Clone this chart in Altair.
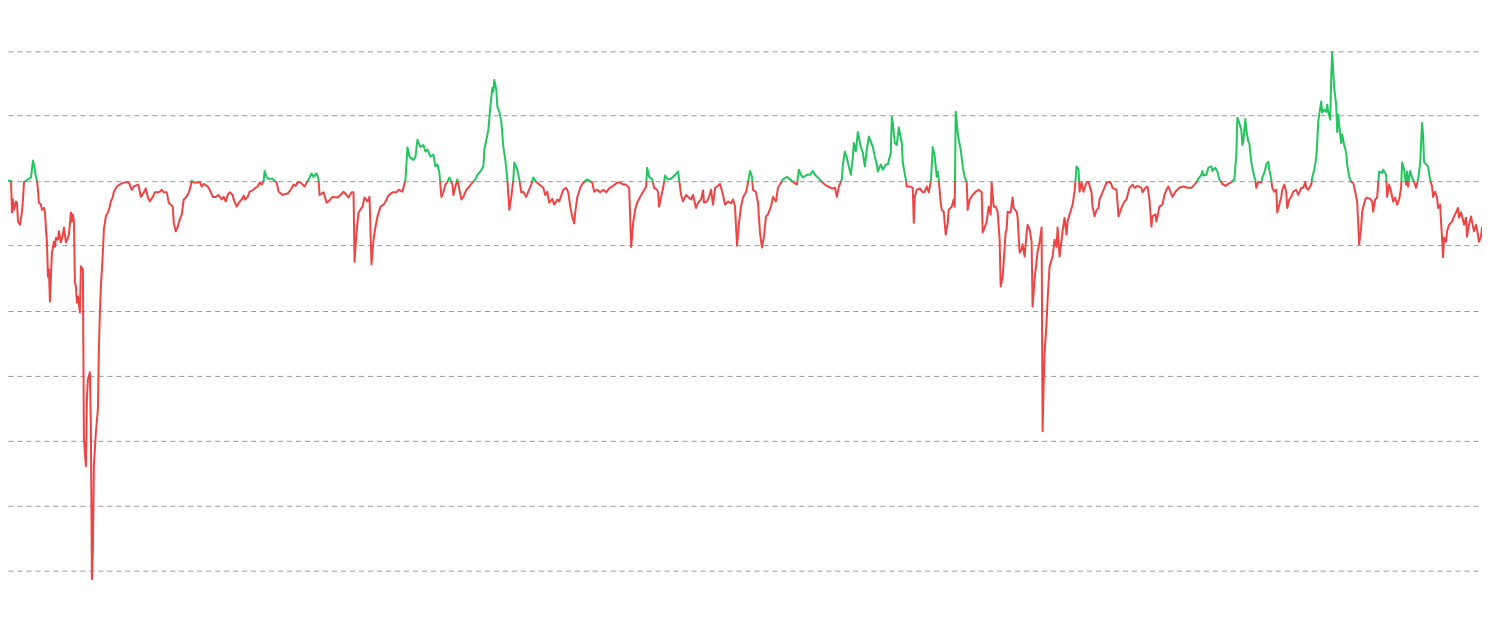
import altair as alt
import pandas as pd

# x position (trading-day index) and indicator value
days = [
    7, 10, 11, 12, 13, 15, 16, 17, 19, 21, 22, 23, 28, 30, 32, 33, 35, 36, 37, 38,
    40, 41, 43, 44, 45, 46, 47, 48, 49, 50, 51, 53, 54, 55, 57, 58, 60, 62, 63, 65,
    67, 68, 70, 71, 72, 73, 74, 75, 76, 77, 79, 80, 82, 83, 85, 86, 87, 89, 90, 91,
    92, 93, 95, 97, 98, 99, 100, 102, 103, 105, 107, 108, 110, 112, 113, 116, 120, 123, 126, 128,
    131, 133, 137, 138, 140, 143, 145, 147, 149, 152, 154, 157, 159, 161, 163, 166, 168, 170, 172, 173,
    175, 177, 179, 181, 183, 185, 187, 189, 191, 193, 197, 199, 201, 203, 207, 209, 212, 215, 218, 221,
    223, 225, 227, 229, 232, 233, 236, 238, 241, 243, 244, 247, 249, 252, 254, 257, 259, 261, 263, 264,
    266, 268, 272, 274, 276, 278, 282, 285, 287, 290, 293, 295, 297, 300, 304, 308, 311, 313, 316, 318,
    319, 323, 326, 328, 332, 337, 340, 343, 346, 348, 351, 353, 354, 356, 358, 362, 364, 367, 369, 371,
    373, 375, 377, 380, 383, 385, 388, 392, 396, 398, 402, 405, 407, 409, 413, 415, 417, 420, 423, 425,
    427, 430, 433, 435, 437, 439, 441, 443, 445, 447, 449, 452, 453, 455, 457, 458, 461, 463, 466, 469,
    472, 475, 477, 480, 483, 484, 486, 488, 490, 492, 493, 494, 496, 497, 499, 501, 503, 505, 507, 509,
    511, 513, 514, 517, 519, 521, 523, 526, 528, 531, 533, 536, 539, 543, 545, 547, 549, 552, 554, 557,
    559, 563, 566, 568, 570, 572, 574, 575, 577, 580, 583, 587, 592, 594, 597, 600, 603, 606, 609, 613,
    617, 620, 623, 626, 629, 631, 633, 635, 637, 640, 643, 646, 647, 649, 652, 654, 657, 658, 659, 661,
    663, 665, 667, 670, 673, 675, 678, 679, 681, 683, 686, 688, 691, 693, 696, 698, 701, 703, 704, 707,
    709, 711, 713, 715, 717, 720, 723, 725, 728, 731, 733, 735, 737, 739, 741, 743, 746, 748, 750, 752,
    753, 756, 758, 760, 762, 764, 766, 768, 771, 773, 776, 778, 780, 783, 787, 790, 793, 797, 799, 801,
    803, 807, 810, 813, 815, 818, 822, 825, 828, 832, 835, 837, 839, 842, 843, 845, 847, 848, 851, 853,
    854, 856, 858, 861, 863, 865, 867, 869, 871, 873, 875, 877, 878, 881, 883, 886, 888, 891, 892, 893,
    895, 897, 899, 902, 903, 906, 907, 910, 913, 914, 915, 917, 920, 923, 925, 927, 929, 931, 932, 933,
    935, 937, 938, 939, 941, 942, 944, 946, 948, 949, 952, 954, 955, 956, 958, 959, 961, 963, 965, 967,
    968, 970, 973, 976, 979, 982, 983, 985, 987, 989, 991, 992, 994, 996, 998, 1000, 1001, 1003, 1004, 1006,
    1007, 1008, 1011, 1013, 1014, 1017, 1018, 1020, 1022, 1023, 1025, 1027, 1028, 1030, 1032, 1033, 1035, 1038, 1040, 1042,
    1043, 1044, 1045, 1047, 1048, 1050, 1052, 1053, 1055, 1057, 1058, 1060, 1062, 1063, 1065, 1067, 1068, 1070, 1073, 1075,
    1076, 1077, 1079, 1080, 1082, 1084, 1087, 1089, 1092, 1093, 1095, 1097, 1099, 1100, 1103, 1107, 1111, 1113, 1117, 1119,
    1122, 1125, 1127, 1130, 1133, 1135, 1138, 1142, 1143, 1146, 1148, 1150, 1152, 1153, 1156, 1157, 1160, 1163, 1165, 1167,
    1169, 1173, 1176, 1180, 1184, 1188, 1192, 1195, 1197, 1199, 1202, 1203, 1204, 1207, 1209, 1212, 1213, 1216, 1218, 1220,
    1223, 1226, 1229, 1232, 1235, 1237, 1238, 1240, 1242, 1243, 1244, 1246, 1247, 1249, 1250, 1252, 1253, 1255, 1256, 1257,
    1259, 1262, 1263, 1265, 1267, 1269, 1270, 1272, 1273, 1275, 1277, 1278, 1280, 1282, 1283, 1285, 1287, 1288, 1290, 1292,
    1294, 1297, 1299, 1302, 1304, 1306, 1307, 1309, 1312, 1313, 1315, 1317, 1318, 1319, 1321, 1322, 1323, 1325, 1327, 1328,
    1329, 1331, 1332, 1333, 1334, 1335, 1337, 1338, 1339, 1340, 1342, 1343, 1345, 1347, 1348, 1350, 1352, 1354, 1356, 1358,
    1360, 1362, 1363, 1366, 1368, 1371, 1373, 1374, 1376, 1378, 1380, 1383, 1384, 1387, 1388, 1390, 1392, 1394, 1396, 1398,
    1400, 1402, 1403, 1405, 1407, 1408, 1409, 1411, 1413, 1415, 1417, 1419, 1421, 1423, 1424, 1425, 1427, 1429, 1431, 1433,
    1434, 1436, 1438, 1439, 1441, 1443, 1444, 1445, 1447, 1448, 1450, 1453, 1455, 1457, 1459, 1460, 1462, 1463, 1465, 1467,
    1468, 1470, 1472, 1473, 1475, 1477, 1478, 1480, 1482, 1483,
]

values = [
    0.00, 0.00, -0.49, -0.29, -0.45, -0.32, -0.34, -0.63, -0.68, -0.48, -0.29, -0.02, 0.03, 0.05, 0.31, 0.25, 0.06, 0.00, -0.14, -0.34,
    -0.37, -0.45, -0.42, -0.48, -0.75, -0.95, -1.48, -1.37, -1.86, -1.48, -1.11, -0.94, -1.02, -0.88, -0.91, -0.78, -0.95, -0.83, -0.72, -0.95,
    -0.88, -0.83, -0.49, -0.63, -0.52, -0.63, -1.57, -1.63, -1.88, -1.78, -2.03, -1.32, -1.37, -3.98, -4.40, -3.37, -3.06, -2.95, -3.78, -6.14,
    -5.68, -4.40, -3.88, -3.52, -2.60, -2.03, -1.63, -1.11, -0.75, -0.55, -0.49, -0.45, -0.32, -0.25, -0.17, -0.09, -0.05, -0.03, -0.02, -0.03,
    -0.14, -0.09, -0.06, -0.09, -0.25, -0.18, -0.12, -0.25, -0.32, -0.25, -0.18, -0.18, -0.17, -0.14, -0.18, -0.18, -0.34, -0.37, -0.40, -0.65,
    -0.78, -0.71, -0.60, -0.52, -0.29, -0.26, -0.22, -0.14, 0.00, -0.03, -0.03, -0.02, -0.09, -0.05, -0.09, -0.14, -0.25, -0.25, -0.22, -0.29,
    -0.25, -0.32, -0.22, -0.18, -0.22, -0.29, -0.40, -0.34, -0.29, -0.23, -0.29, -0.25, -0.17, -0.15, -0.12, -0.09, -0.03, -0.06, 0.00, 0.15,
    0.05, 0.03, 0.03, 0.00, -0.03, -0.17, -0.22, -0.20, -0.20, -0.14, -0.06, -0.08, -0.03, -0.03, -0.09, 0.02, 0.11, 0.06, 0.11, 0.02,
    -0.22, -0.18, -0.34, -0.32, -0.25, -0.26, -0.22, -0.17, -0.22, -0.26, -0.18, -0.18, -1.25, -0.80, -0.49, -0.40, -0.26, -0.32, -0.25, -1.29,
    -0.91, -0.71, -0.55, -0.40, -0.37, -0.32, -0.23, -0.18, -0.18, -0.14, -0.17, 0.02, 0.51, 0.37, 0.32, 0.37, 0.63, 0.52, 0.55, 0.45,
    0.48, 0.37, 0.40, 0.22, 0.25, 0.12, -0.25, -0.18, -0.06, -0.02, 0.05, -0.06, -0.22, -0.09, 0.02, -0.06, -0.29, -0.25, -0.14, -0.09,
    -0.03, 0.02, 0.09, 0.14, 0.22, 0.48, 0.63, 0.78, 1.14, 1.43, 1.37, 1.55, 1.40, 1.14, 1.06, 0.91, 0.52, 0.32, 0.02, -0.45,
    -0.25, 0.02, 0.28, 0.17, 0.02, -0.18, -0.17, -0.25, -0.17, -0.06, 0.05, -0.02, -0.06, -0.11, -0.22, -0.17, -0.34, -0.28, -0.37, -0.29,
    -0.32, -0.14, -0.11, -0.18, -0.40, -0.55, -0.66, -0.49, -0.26, -0.11, -0.03, 0.02, -0.03, -0.17, -0.14, -0.18, -0.14, -0.18, -0.12, -0.08,
    -0.03, -0.03, -0.06, -0.06, -0.11, -1.02, -0.65, -0.45, -0.34, -0.25, -0.17, -0.09, 0.20, 0.06, 0.02, -0.11, -0.14, -0.18, -0.40, -0.25,
    -0.11, 0.08, 0.03, 0.02, 0.06, 0.09, 0.14, 0.02, -0.22, -0.32, -0.22, -0.25, -0.29, -0.22, -0.42, -0.34, -0.29, -0.15, -0.34, -0.32,
    -0.25, -0.14, -0.37, -0.11, -0.09, -0.05, -0.22, -0.37, -0.32, -0.35, -0.29, -0.40, -1.00, -0.65, -0.40, -0.26, -0.18, -0.03, 0.15, 0.06,
    -0.14, -0.18, -0.34, -0.80, -1.03, -0.86, -0.55, -0.52, -0.40, -0.25, -0.32, -0.11, -0.06, 0.02, 0.06, 0.02, -0.02, -0.06, 0.17, 0.09,
    0.05, 0.09, 0.09, 0.15, 0.09, 0.05, -0.02, -0.06, -0.09, -0.12, -0.11, -0.25, -0.09, 0.02, 0.25, 0.45, 0.35, 0.28, 0.09, 0.37,
    0.58, 0.45, 0.75, 0.52, 0.43, 0.22, 0.48, 0.68, 0.60, 0.52, 0.37, 0.25, 0.14, 0.25, 0.17, 0.25, 0.25, 0.43, 0.98, 0.89,
    0.58, 0.55, 0.82, 0.58, 0.28, 0.02, -0.09, -0.09, -0.11, -0.65, -0.25, -0.14, -0.12, -0.18, -0.17, -0.09, -0.18, -0.02, 0.22, 0.52,
    0.37, 0.06, 0.14, 0.02, -0.34, -0.45, -0.48, -0.83, -0.65, -0.45, -0.40, -0.29, -0.40, 1.06, 0.74, 0.63, 0.48, 0.22, 0.05, -0.02,
    -0.45, -0.29, -0.22, -0.17, -0.14, -0.18, -0.80, -0.72, -0.63, -0.40, -0.52, -0.03, -0.40, -0.40, -0.48, -0.91, -1.63, -1.48, -1.26, -0.80,
    -0.75, -0.48, -0.49, -0.26, -0.42, -0.48, -0.57, -1.11, -1.06, -0.98, -1.17, -0.80, -0.68, -0.75, -0.94, -1.94, -1.52, -1.09, -0.95, -0.72,
    -3.86, -3.17, -2.65, -2.18, -1.83, -1.32, -1.22, -1.17, -0.91, -1.02, -0.72, -1.17, -0.91, -0.78, -0.57, -0.83, -0.63, -0.52, -0.37, -0.17,
    0.02, 0.22, 0.17, -0.17, -0.03, -0.17, -0.02, -0.02, -0.18, -0.40, -0.55, -0.45, -0.42, -0.29, -0.18, -0.03, -0.02, -0.11, -0.14, -0.55,
    -0.42, -0.32, -0.29, -0.11, -0.06, -0.11, -0.08, -0.11, -0.18, -0.11, -0.09, -0.29, -0.71, -0.55, -0.52, -0.63, -0.40, -0.37, -0.22, -0.14,
    -0.09, -0.25, -0.17, -0.11, -0.09, -0.11, -0.11, -0.06, -0.03, 0.03, 0.09, 0.15, 0.08, 0.09, 0.20, 0.22, 0.15, 0.20, 0.14, 0.02,
    -0.05, -0.08, -0.05, -0.02, 0.02, 0.40, 0.97, 0.89, 0.78, 0.55, 0.60, 0.95, 0.78, 0.60, 0.58, 0.29, 0.20, 0.06, 0.02, -0.11,
    -0.02, -0.03, 0.05, 0.12, 0.25, 0.29, 0.17, 0.02, -0.11, -0.17, -0.14, -0.49, -0.37, -0.25, -0.14, -0.06, -0.18, -0.42, -0.29, -0.25,
    -0.17, -0.14, -0.22, -0.11, -0.11, -0.02, -0.11, -0.14, -0.06, 0.05, 0.17, 0.35, 0.60, 0.91, 1.12, 1.22, 1.05, 1.09, 1.06, 1.17,
    1.06, 0.94, 1.58, 1.98, 1.68, 1.43, 1.17, 0.75, 1.02, 0.86, 0.58, 0.71, 0.55, 0.43, 0.25, 0.06, -0.02, -0.03, -0.17, -0.32,
    -0.98, -0.72, -0.48, -0.29, -0.26, -0.28, -0.32, -0.48, -0.29, -0.26, 0.14, 0.12, 0.17, 0.09, -0.25, -0.06, -0.17, -0.32, -0.26, -0.37,
    -0.29, -0.11, 0.28, 0.17, -0.06, 0.14, -0.09, 0.15, 0.05, -0.02, -0.11, 0.02, 0.25, 0.89, 0.71, 0.29, 0.25, 0.22, 0.02, -0.09,
    -0.25, -0.17, -0.26, -0.42, -0.37, -0.88, -1.18, -0.88, -0.94, -0.78, -0.68, -0.63, -0.55, -0.49, -0.42, -0.57, -0.49, -0.55, -0.68, -0.57,
    -0.86, -0.68, -0.55, -0.63, -0.78, -0.68, -0.75, -0.94, -0.86, -0.71,
]

threshold = 0.0
grid_values = [-6, -5, -4, -3, -2, -1, 0, 1, 2]
green = "#22c55e"
red = "#ef4444"

df = pd.DataFrame({"day": days, "value": values})

# colour switches where the line crosses the threshold (gradient in bounding-box units)
vmax = max(values)
vmin = min(values)
cut = (vmax - threshold) / (vmax - vmin)

line = alt.Chart(df).mark_line(
    strokeWidth=2,
    strokeJoin="round",
    color=alt.LinearGradient(
        gradient="linear",
        stops=[
            alt.GradientStop(color=green, offset=0),
            alt.GradientStop(color=green, offset=cut),
            alt.GradientStop(color=red, offset=cut),
            alt.GradientStop(color=red, offset=1),
        ],
        x1=0, x2=0, y1=0, y2=1,
    ),
).encode(
    x=alt.X("day:Q", axis=None,
            scale=alt.Scale(domain=[7, 1483], nice=False, zero=False)),
    y=alt.Y("value:Q",
            scale=alt.Scale(domain=[-6.5, 2.5], nice=False, zero=False),
            axis=alt.Axis(values=grid_values, labels=False, ticks=False,
                          domain=False, grid=True, gridDash=[5, 4],
                          gridColor="#9a9a9a", gridWidth=1, title=None)),
)

chart = line.properties(
    width=1476,
    height=585,
    autosize=alt.AutoSizeParams(type="none"),
    padding={"left": 0, "top": 10, "right": 0, "bottom": 0},
).configure_view(stroke=None)

chart.save("out.html", embed_options={"renderer": "svg", "actions": False})
